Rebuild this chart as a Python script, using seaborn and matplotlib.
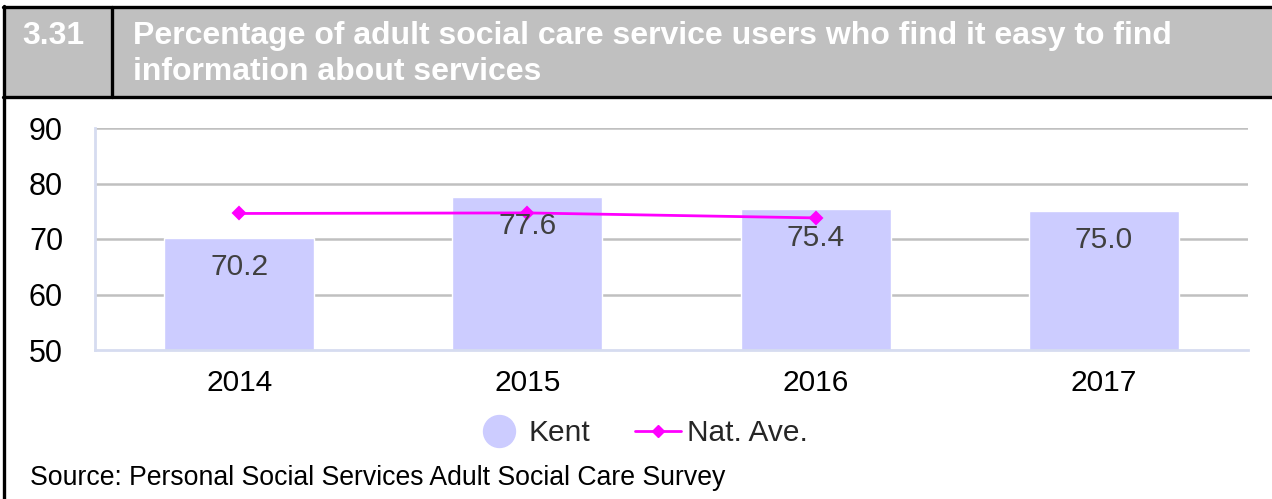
import matplotlib
matplotlib.use("Agg")
import matplotlib.pyplot as plt
from matplotlib.lines import Line2D
from matplotlib.patches import Rectangle
import seaborn as sns
import pandas as pd

# Data
years = ["2014", "2015", "2016", "2017"]
kent = [70.2, 77.6, 75.4, 75.0]
nat_years = ["2014", "2015", "2016"]
nat_ave = [74.6, 74.7, 73.8]
y_ticks = [50, 60, 70, 80, 90]

fig_number = "3.31"
title_lines = ["Percentage of adult social care service users who find it easy to find",
               "information about services"]
source = "Source: Personal Social Services Adult Social Care Survey"

sns.set_theme(style="white")
plt.rcParams["font.family"] = ["Liberation Sans", "DejaVu Sans"]

W, H = 1272, 499
fig = plt.figure(figsize=(W / 100, H / 100), dpi=100)

def fx(px):
    return px / W

def fy(py):
    return 1 - py / H

# Plot area
ax = fig.add_axes([fx(95), fy(350), fx(1248) - fx(95), fy(128) - fy(350)])

bar_df = pd.DataFrame({"year": years, "value": kent})
sns.barplot(data=bar_df, x="year", y="value", order=years, color="#ccccff",
            saturation=1, width=0.52, ax=ax, zorder=2)

nat_df = pd.DataFrame({"year": nat_years, "value": nat_ave})
sns.pointplot(data=nat_df, x="year", y="value", order=years, color="#ff00ff",
              markers="D", markersize=6, linewidth=2, ax=ax, zorder=4)

ax.set_ylim(50, 90)
ax.set_xlim(-0.5, len(years) - 0.5)
ax.set_yticks(y_ticks)
ax.set_yticklabels([str(t) for t in y_ticks], fontsize=22, color="black")
ax.set_xticks(range(len(years)))
ax.set_xticklabels(years, fontsize=21.5, color="black")
ax.set_xlabel("")
ax.set_ylabel("")

# Category separator ticks below the axis
ax.set_xticks([i - 0.5 for i in range(len(years) + 1)], minor=True)
ax.tick_params(axis="x", which="major", length=0, pad=14)
ax.tick_params(axis="x", which="minor", length=19, width=1.5, color="#d6dcf0",
               direction="out")
ax.tick_params(axis="y", length=0, pad=23)

for y in y_ticks[1:]:
    ax.axhline(y, color="#c0c0c0", lw=1.8, zorder=1)

for s in ["top", "right"]:
    ax.spines[s].set_visible(False)
for s in ["left", "bottom"]:
    ax.spines[s].set_color("#d6dcf0")
    ax.spines[s].set_linewidth(2)
    ax.spines[s].set_zorder(3)

# Value labels inside the top of each bar
for i, v in enumerate(kent):
    ax.annotate(f"{v:.1f}", xy=(i, v), xytext=(0, -21), textcoords="offset points",
                ha="center", va="center", fontsize=21.5, color="#404040", zorder=5)

# Legend
handles = [
    Line2D([], [], marker="o", linestyle="none", markersize=23,
           markerfacecolor="#ccccff", markeredgecolor="#ccccff"),
    Line2D([], [], marker="D", color="#ff00ff", linewidth=2, markersize=6),
]
fig.legend(handles, ["Kent", "Nat. Ave."], loc="center", bbox_to_anchor=(fx(642), fy(433)),
           ncol=2, frameon=False, fontsize=21.5, handlelength=1.55, columnspacing=1.5,
           handletextpad=0.2)

# Header band
fig.patches.append(Rectangle((fx(4), fy(97)), 1, fy(7) - fy(97), transform=fig.transFigure,
                             facecolor="#c0c0c0", edgecolor="none", zorder=0))
for yy in (7, 97):
    fig.add_artist(Line2D([fx(3), 1], [fy(yy), fy(yy)], transform=fig.transFigure,
                          color="black", lw=2.4))
fig.add_artist(Line2D([fx(112), fx(112)], [fy(7), fy(97)], transform=fig.transFigure,
                      color="black", lw=2.4))
fig.add_artist(Line2D([fx(4), fx(4)], [0, fy(6)], transform=fig.transFigure,
                      color="black", lw=2.4))

fig.text(fx(22), fy(36), fig_number, fontsize=23, fontweight="bold", color="white",
         ha="left", va="center")
fig.text(fx(133), fy(36), title_lines[0], fontsize=23, fontweight="bold", color="white",
         ha="left", va="center")
fig.text(fx(133), fy(72), title_lines[1], fontsize=23, fontweight="bold", color="white",
         ha="left", va="center")

fig.text(fx(30), fy(478), source, fontsize=19.2, color="black", ha="left", va="center")

fig.savefig("out.png", dpi=100)
